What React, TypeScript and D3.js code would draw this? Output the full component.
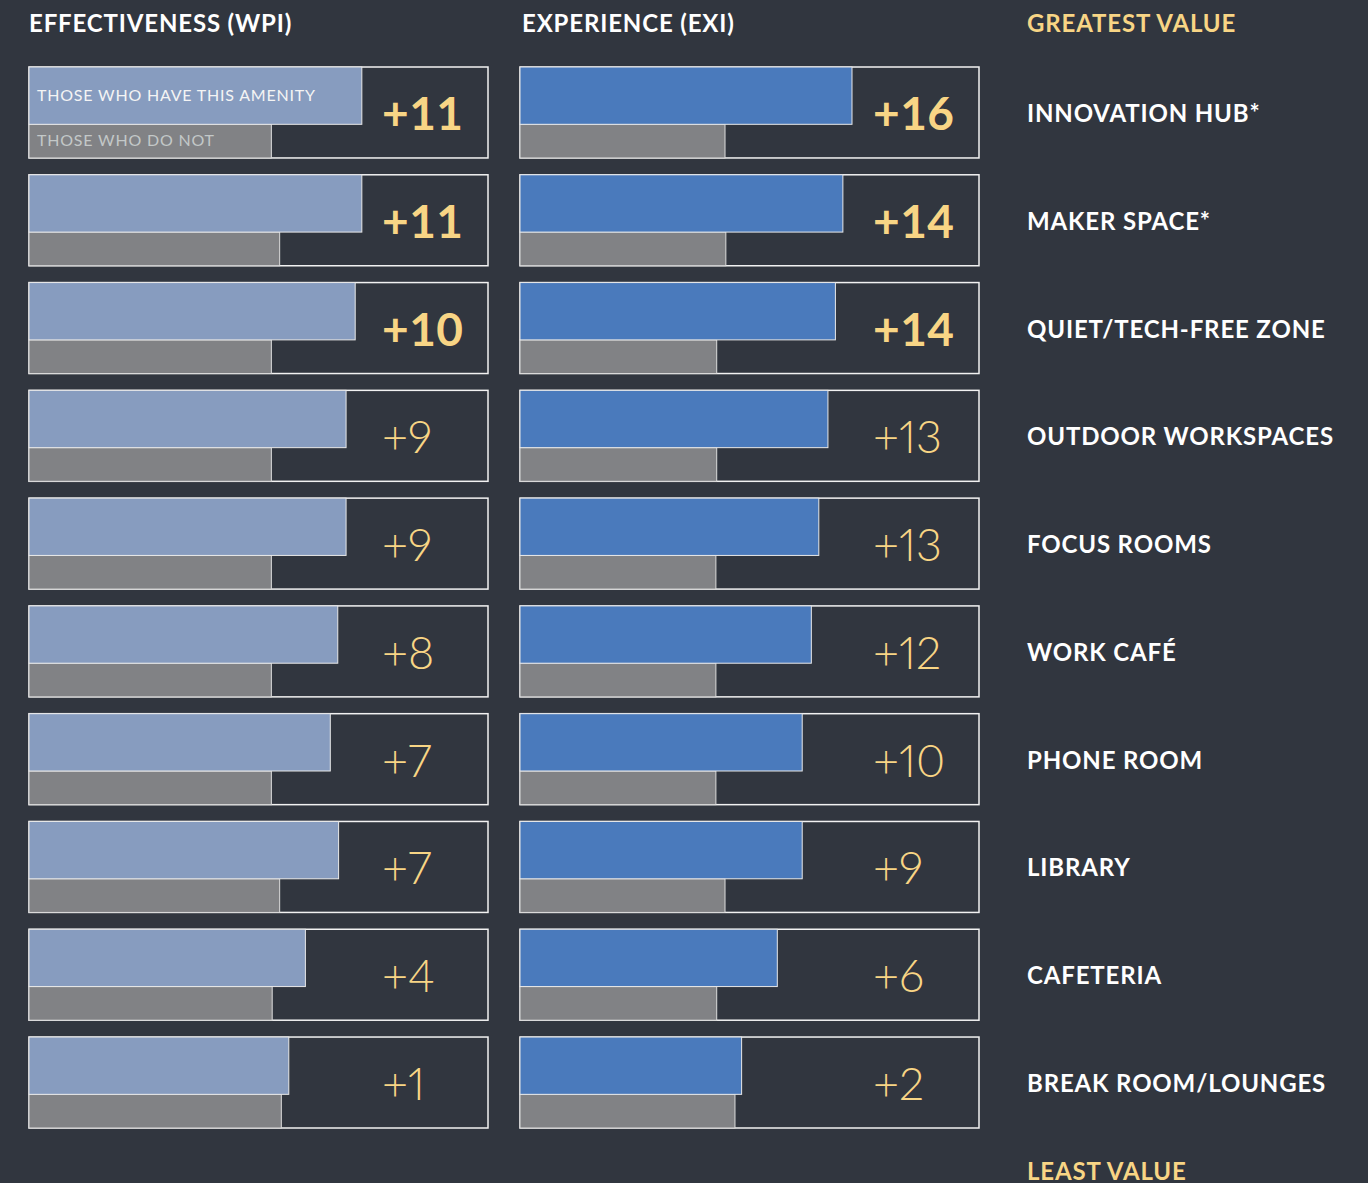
import * as d3 from 'd3';

const amenities = [
  'INNOVATION HUB*',
  'MAKER SPACE*',
  'QUIET/TECH-FREE ZONE',
  'OUTDOOR WORKSPACES',
  'FOCUS ROOMS',
  'WORK CAFÉ',
  'PHONE ROOM',
  'LIBRARY',
  'CAFETERIA',
  'BREAK ROOM/LOUNGES',
];

// estimated scores
const wpiHave = [77.1, 77.1, 76.3, 75.2, 75.2, 74.2, 73.3, 74.3, 70.3, 68.3];
const wpiNot = [66.2, 67.2, 66.2, 66.2, 66.2, 66.2, 66.2, 67.2, 66.3, 67.4];
const wpiDelta = ['+11', '+11', '+10', '+9', '+9', '+8', '+7', '+7', '+4', '+1'];

const exiHave = [77.0, 75.9, 75.0, 74.1, 73.0, 72.1, 71.0, 71.0, 68.0, 63.7];
const exiNot = [61.7, 61.8, 60.7, 60.7, 60.6, 60.6, 60.6, 61.7, 60.7, 62.9];
const exiDelta = ['+16', '+14', '+14', '+13', '+13', '+12', '+10', '+9', '+6', '+2'];

const BG = '#31363f';
const GOLD = '#f8d585';
const FONT = 'Lato, "Open Sans", sans-serif';

const rowScale = () =>
  d3.scaleBand().domain(amenities).range([67, 1128]).paddingInner(0.156).paddingOuter(0);

function Panel({ x0, have, not, delta, fill, legend }) {
  const x = d3.scaleLinear().domain([37, 92.3]).range([x0, x0 + 459]);
  const y = rowScale();
  const bw = y.bandwidth();
  const topH = bw * 0.63;
  return (
    <g>
      {amenities.map((a, i) => {
        const top = y(a);
        const bold = i < 3;
        return (
          <g key={a}>
            <rect x={x0} y={top} width={459} height={bw} fill={BG} stroke="#f2f2f2" strokeWidth={1.5} />
            <rect x={x0} y={top + topH} width={x(not[i]) - x0} height={bw - topH} fill="#818285" stroke="#dcdcdc" strokeWidth={1} />
            <rect x={x0} y={top} width={x(have[i]) - x0} height={topH} fill={fill} stroke="#e8e8e8" strokeWidth={1} />
            <text x={x0 + 353} y={top + 63} fill={GOLD} fontFamily={FONT}
              fontSize={bold ? 46 : 45} fontWeight={bold ? 700 : 300}
              style={{ fontVariantNumeric: bold ? 'tabular-nums' : 'proportional-nums' }}
              letterSpacing={bold ? 0.5 : 0}>{delta[i]}</text>
            {legend && i === 0 && (
              <g fontFamily={FONT} fontSize={16} fontWeight={400} letterSpacing={0.8}>
                <text x={x0 + 8} y={top + 34} fill="#f4f4f4">THOSE WHO HAVE THIS AMENITY</text>
                <text x={x0 + 8} y={top + 79} fill="#c3c8c8">THOSE WHO DO NOT</text>
              </g>
            )}
          </g>
        );
      })}
    </g>
  );
}

export default function App() {
  const y = rowScale();
  return (
    <div style={{ position: 'absolute', left: 0, top: 0, width: 1368, height: 1183, background: BG }}>
      <svg width={1368} height={1183} style={{ display: 'block' }}>
        <rect width={1368} height={1183} fill={BG} />
        <g fontFamily={FONT} fontWeight={700} fontSize={24} letterSpacing={0.85}>
          <text x={29} y={32} fill="#ffffff">EFFECTIVENESS (WPI)</text>
          <text x={522} y={32} fill="#ffffff">EXPERIENCE (EXI)</text>
          <text x={1027} y={32} fill={GOLD}>GREATEST VALUE</text>
          <text x={1027} y={1180} fill={GOLD}>LEAST VALUE</text>
          {amenities.map(a => (
            <text key={a} x={1027} y={(y(a) ?? 0) + y.bandwidth() / 2 + 9.5} fill="#ffffff">{a}</text>
          ))}
        </g>
        <Panel x0={29} have={wpiHave} not={wpiNot} delta={wpiDelta} fill="#879cbf" legend />
        <Panel x0={520} have={exiHave} not={exiNot} delta={exiDelta} fill="#4a7abc" legend={false} />
      </svg>
    </div>
  );
}
